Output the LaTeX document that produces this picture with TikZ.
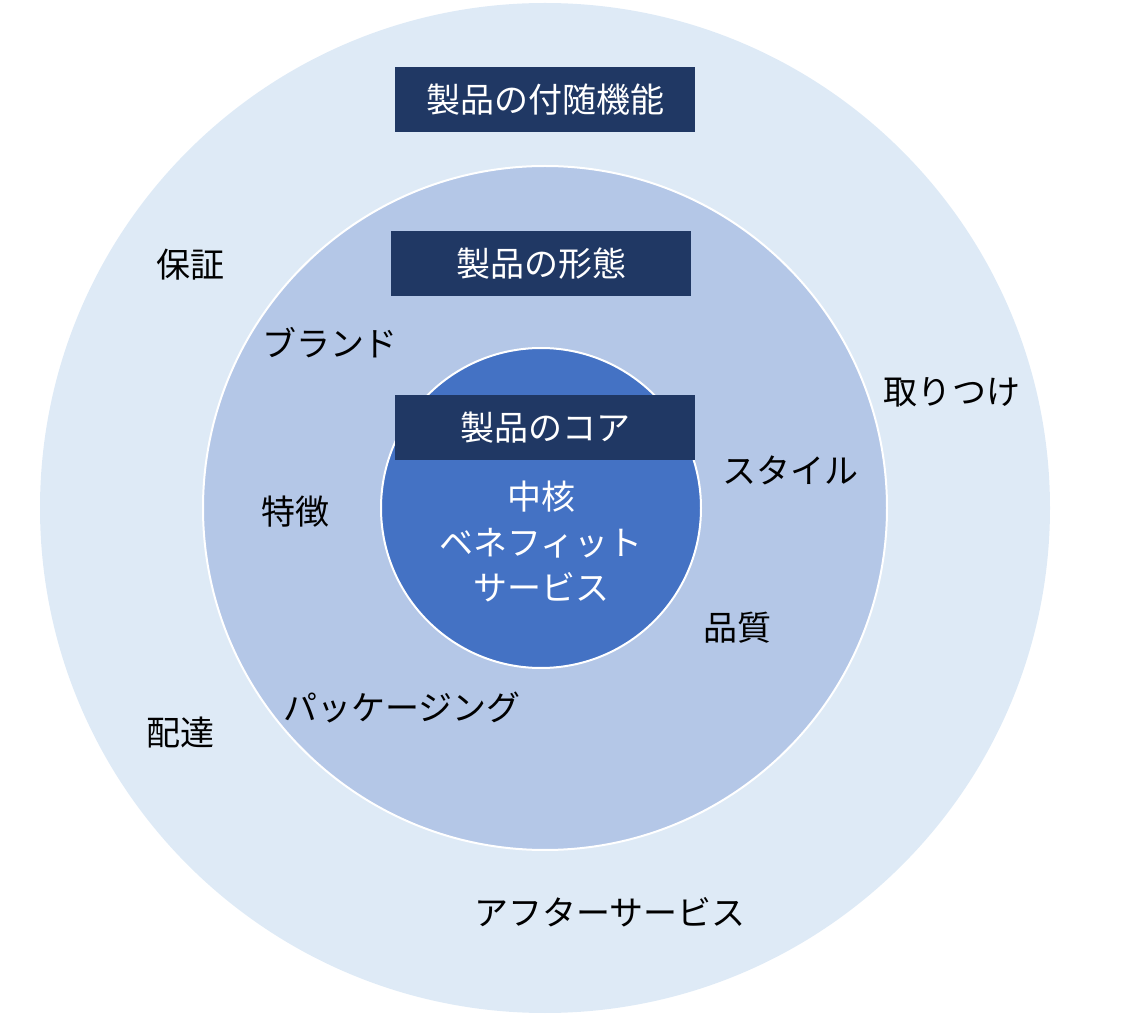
\documentclass[tikz,border=0pt]{standalone}
\usepackage{fontspec}
\setmainfont{Noto Sans CJK JP}
\usetikzlibrary{positioning}
\definecolor{outerblue}{HTML}{DEEAF6}
\definecolor{midblue}{HTML}{B4C7E7}
\definecolor{coreblue}{HTML}{4472C4}
\definecolor{navy}{HTML}{203864}
\begin{document}
\begin{tikzpicture}[x=0.5pt,y=-0.5pt,
    title box/.style={fill=navy,text=white,minimum width=150pt,minimum height=32.5pt,inner sep=0pt,font=\fontsize{17}{20}\selectfont},
    item/.style={font=\fontsize{17}{20}\selectfont,inner sep=0pt},
    core text/.style={item,text=white,align=center}]
  \useasboundingbox (0,0) rectangle (1132,1016);
  \fill[outerblue] (545,508) circle[radius=505];
  \filldraw[fill=midblue,draw=white,line width=1pt] (545,508) circle[radius=342];
  \filldraw[fill=coreblue,draw=white,line width=1pt] (541,508) circle[radius=160];
  % title boxes
  \node[title box] (aug) at (545,100) {製品の付随機能};
  \node[title box] (form) at (541,264) {製品の形態};
  \node[title box] (core) at (545,428) {製品のコア};
  % core
  \node[core text] (c1) at (541,497) {中核};
  \node[core text] (c2) at (541,543) {ベネフィット};
  \node[core text] (c3) at (541,587) {サービス};
  % form level
  \node[item] (brand) at (330,343) {ブランド};
  \node[item] (style) at (790,470) {スタイル};
  \node[item] (feat) at (295,512) {特徴};
  \node[item] (qual) at (737,628) {品質};
  \node[item] (pack) at (402,707) {パッケージング};
  % augmented level
  \node[item] (warr) at (190,265) {保証};
  \node[item] (inst) at (952,392) {取りつけ};
  \node[item] (deliv) at (180,733) {配達};
  \node[item] (after) at (610,912) {アフターサービス};
\end{tikzpicture}
\end{document}
